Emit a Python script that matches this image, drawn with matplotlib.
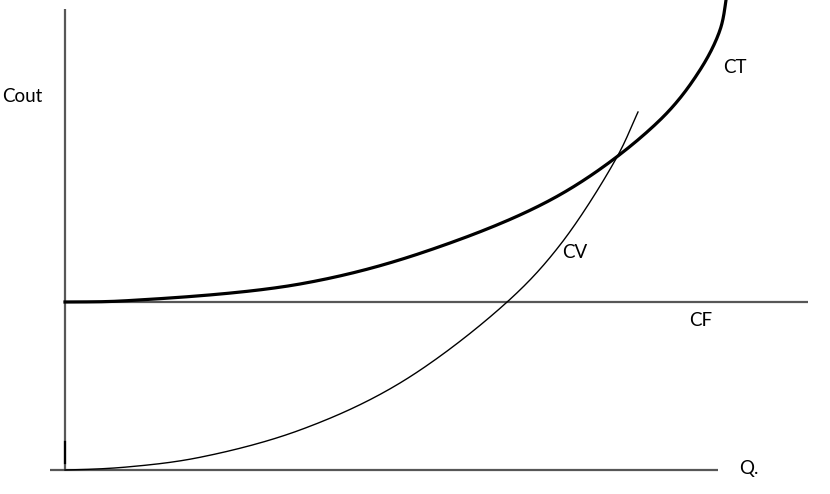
import numpy as np
import matplotlib.pyplot as plt

# values (quantity, cost), origin at the axes corner
ct_q = [0, 62, 235, 365, 498, 595, 635, 655, 661, 663]
ct_c = [168, 169.3, 186, 220, 277, 350, 400, 440, 470, 490]

cv_q = [0, 62, 135, 235, 335, 441, 495, 552, 573]
cv_c = [0, 3, 12.7, 40, 87, 167, 225, 313, 358]

cf_value = 168
q_max = 653
cout_max = 461


def smooth(xs, ys, n=40):
    # centripetal catmull-rom, only to draw a smooth stroke through the points
    p = np.column_stack([xs, ys]).astype(float)
    start = p[0] - np.array([p[1, 0] - p[0, 0], 0.0])  # flat start
    p = np.vstack([start, p, 2 * p[-1] - p[-2]])
    out = []
    for i in range(1, len(p) - 2):
        p0, p1, p2, p3 = p[i - 1], p[i], p[i + 1], p[i + 2]
        t0 = 0.0
        t1 = t0 + np.linalg.norm(p1 - p0) ** 0.5
        t2 = t1 + np.linalg.norm(p2 - p1) ** 0.5
        t3 = t2 + np.linalg.norm(p3 - p2) ** 0.5
        t = np.linspace(t1, t2, n, endpoint=False)[:, None]
        a1 = (t1 - t) / (t1 - t0) * p0 + (t - t0) / (t1 - t0) * p1
        a2 = (t2 - t) / (t2 - t1) * p1 + (t - t1) / (t2 - t1) * p2
        a3 = (t3 - t) / (t3 - t2) * p2 + (t - t2) / (t3 - t2) * p3
        b1 = (t2 - t) / (t2 - t0) * a1 + (t - t0) / (t2 - t0) * a2
        b2 = (t3 - t) / (t3 - t1) * a2 + (t - t1) / (t3 - t1) * a3
        out.append((t2 - t) / (t2 - t1) * b1 + (t - t1) / (t2 - t1) * b2)
    out.append(p[-2][None, :])
    out = np.vstack(out)
    return out[:, 0], out[:, 1]


plt.rcParams['font.family'] = ['Lato', 'DejaVu Sans']

fig = plt.figure(figsize=(8.3, 4.94), dpi=100)
ax = fig.add_axes([0, 0, 1, 1])
ax.set_xlim(-65, 765)
ax.set_ylim(-24, 470)
ax.axis('off')

axis_col = '#575757'
# axes
ax.plot([0, 0], [0, cout_max], color=axis_col, lw=1.6, solid_capstyle='butt')
ax.plot([-15, q_max], [0, 0], color=axis_col, lw=1.6, solid_capstyle='butt')
ax.plot([0, 0], [7, 28], color='black', lw=1.6)  # dark bit at bottom of axis

# fixed cost
ax.plot([0, 743], [cf_value, cf_value], color=axis_col, lw=1.6, solid_capstyle='butt')

# curves
x, y = smooth(ct_q, ct_c)
ax.plot(x, y, color='black', lw=2.3)
x, y = smooth(cv_q, cv_c)
ax.plot(x, y, color='black', lw=1.0)

fs = 13.5
ax.text(-63, 373, 'Cout', fontsize=fs, va='center', ha='left')
ax.text(670, 402, 'CT', fontsize=fs, va='center', ha='center')
ax.text(510, 218, 'CV', fontsize=fs, va='center', ha='center')
ax.text(636, 149, 'CF', fontsize=fs, va='center', ha='center')
ax.text(674, 2, 'Q.', fontsize=fs, va='center', ha='left')

fig.savefig('out.png', dpi=100)
